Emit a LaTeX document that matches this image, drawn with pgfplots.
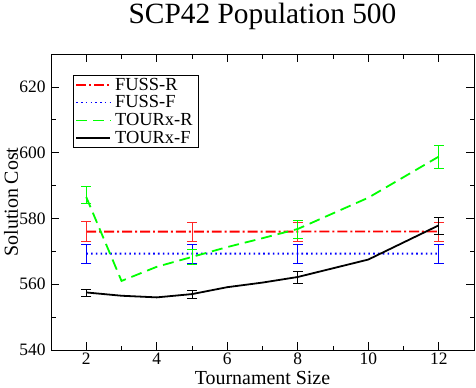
\documentclass[border=0pt]{standalone}
\usepackage{fontspec}
\setmainfont{Liberation Serif}
\usepackage{pgfplots}
\pgfplotsset{compat=1.18}
\definecolor{gRed}{RGB}{255,0,0}
\definecolor{gBlue}{RGB}{0,0,255}
\definecolor{gGreen}{RGB}{0,255,0}
\begin{document}
\begin{tikzpicture}
\useasboundingbox (-51bp,-38bp) rectangle (425bp,350bp);
\begin{axis}[
  scale only axis, width=423bp, height=296bp,
  xmin=1, xmax=13, ymin=540, ymax=630,
  xtick={2,4,...,12}, ytick={540,560,...,620},
  minor x tick num=1, minor y tick num=1,
  tick align=inside, major tick length=8bp, minor tick length=4.5bp,
  tick style={black, line width=0.6pt},
  axis line style={line width=0.8pt},
  /pgf/number format/assume math mode=true,
  tick label style={font=\fontsize{17.5}{17.5}\selectfont},
  xticklabel style={inner sep=1bp, yshift=-1.5bp},
  yticklabel style={xshift=-2bp},
  xlabel={Tournament Size}, ylabel={Solution Cost},
  title={SCP42 Population 500},
  every axis x label/.style={at={(axis description cs:0.5,0)}, yshift=-34bp, anchor=base, font=\fontsize{20}{20}\selectfont},
  every axis y label/.style={at={(axis description cs:0,0.5)}, xshift=-33bp, rotate=90, anchor=base, font=\fontsize{20}{20}\selectfont},
  every axis title/.style={at={(axis description cs:0.5,1)}, yshift=31bp, anchor=base, font=\fontsize{29.5}{29.5}\selectfont},
  legend style={at={(0.052,0.929)}, anchor=north west, draw=black, line width=0.6pt,
    font=\fontsize{18.5}{18.5}\selectfont, row sep=3.2bp, inner sep=2bp,
    nodes={inner xsep=4bp, inner ysep=0.5bp}, cells={anchor=west}},
  legend image code/.code={\draw[#1] (0bp,0bp) -- (34bp,0bp);},
]
% main lines (the last point of a flat series is nudged by 0.01 so it renders)
\addplot[gRed, line width=1.8pt, dash pattern=on 10pt off 3pt on 2pt off 3pt]
  coordinates {(2,576) (5,576) (8,576) (12,576.01)};
\addplot[gBlue, line width=1.8pt, dash pattern=on 1.6pt off 3.2pt]
  coordinates {(2,569.3) (5,569.3) (8,569.3) (12,569.31)};
\addplot[gGreen, line width=1.8pt, dash pattern=on 11pt off 6pt]
  coordinates {(2,586.5) (3,561) (4,565.3) (5,568.3) (6,571.3) (7,574) (8,576.8) (10,586.3) (12,598.8)};
\addplot[black, line width=1.8pt]
  coordinates {(2,557.5) (3,556.5) (4,556) (5,557) (6,559.1) (7,560.5) (8,562.2) (10,567.5) (12,577.9)};
\legend{FUSS-R, FUSS-F, TOURx-R, TOURx-F}
% error bars
\addplot[forget plot, draw=none, mark=none, error bars/.cd, y dir=both, y explicit,
  error bar style={draw=gRed!85, solid, line width=0.6pt},
  error mark options={rotate=90, mark size=5bp, draw=gRed!85, solid, line width=0.6pt}]
  coordinates {(2,576) +- (0,3) (5,576) +- (0,2.8) (8,576) +- (0,2.8) (12,576) +- (0,2.8)};
\addplot[forget plot, draw=none, mark=none, error bars/.cd, y dir=both, y explicit,
  error bar style={draw=gBlue, solid, line width=0.6pt},
  error mark options={rotate=90, mark size=5bp, draw=gBlue, solid, line width=0.6pt}]
  coordinates {(2,569.3) +- (0,2.9) (5,569.3) +- (0,2.9) (8,569.3) +- (0,2.9) (12,569.3) +- (0,2.9)};
\addplot[forget plot, draw=none, mark=none, error bars/.cd, y dir=both, y explicit,
  error bar style={draw=gGreen, solid, line width=0.6pt},
  error mark options={rotate=90, mark size=5bp, draw=gGreen, solid, line width=0.6pt}]
  coordinates {(2,587.2) +- (0,2.7) (5,568.3) +- (0,2.2) (8,576.8) +- (0,2.7) (12,598.8) +- (0,3.4)};
\addplot[forget plot, draw=none, mark=none, error bars/.cd, y dir=both, y explicit,
  error bar style={draw=black, solid, line width=0.6pt},
  error mark options={rotate=90, mark size=5bp, draw=black, solid, line width=0.6pt}]
  coordinates {(2,557.5) +- (0,1.1) (5,557) +- (0,1.3) (8,562.2) +- (0,1.8) (12,577.9) +- (0,2.6)};
\end{axis}
\end{tikzpicture}
\end{document}
